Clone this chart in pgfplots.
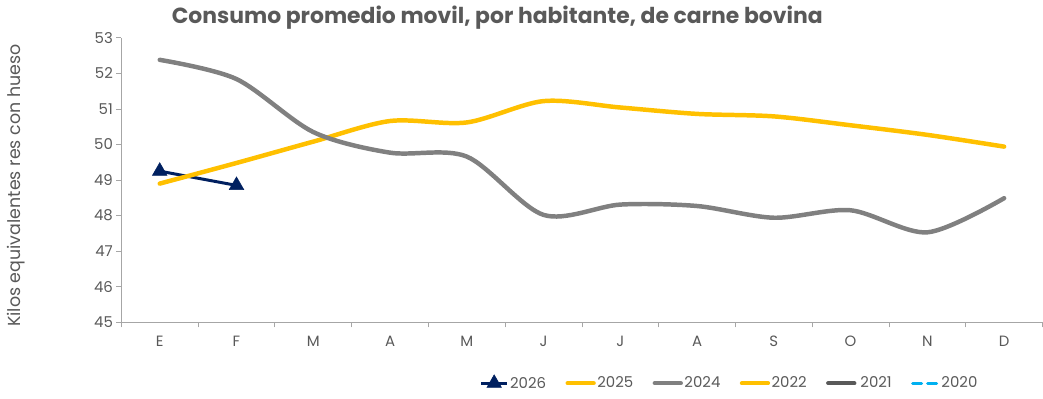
\documentclass[border=0pt]{standalone}
\usepackage{pgfplots}
\pgfplotsset{compat=1.18}
\usepackage{fontspec}
\setmainfont{Poppins}
\definecolor{navy}{HTML}{002060}
\definecolor{gold}{HTML}{FFC000}
\definecolor{midgray}{HTML}{808080}
\definecolor{darkslate}{HTML}{595959}
\definecolor{skyblue}{HTML}{00B0F0}
\definecolor{txtgray}{HTML}{595959}
\definecolor{axgray}{HTML}{A6A6A6}

\begin{document}
\begin{tikzpicture}
\begin{axis}[
    at={(0pt,0pt)}, anchor=south west,
    scale only axis,
    width=926pt, height=286pt,
    xmin=-0.5, xmax=11.5,
    ymin=45, ymax=53,
    ytick={45,...,53},
    xtick={0,...,11},
    xticklabels={E,F,M,A,M,J,J,A,S,O,N,D},
    minor xtick={-0.5,0.5,...,11.5},
    major x tick style={draw=none},
    minor tick length=5pt,
    major tick length=5pt,
    tick align=outside,
    axis x line*=bottom,
    axis y line*=left,
    axis line style={axgray, line width=1pt},
    tick style={axgray, line width=0.8pt},
    every tick label/.style={font=\fontsize{15}{17}\selectfont, text=txtgray},
    /pgf/number format/assume math mode=true,
    xticklabel style={yshift=-5pt},
    ylabel={Kilos equivalentes res con hueso},
    ylabel style={at={(axis description cs:-0.114,0.48)}, anchor=center,
      font=\fontsize{17.5}{20}\selectfont, text=txtgray},
    legend style={at={(axis description cs:0.66,-0.213)}, anchor=center,
      draw=none, fill=none, font=\fontsize{15}{17}\selectfont, text=txtgray,
      legend columns=6, inner sep=0pt,
      nodes={inner sep=1.5pt},
      /tikz/every even column/.append style={column sep=18pt}},
    legend cell align=left,
    legend image code/.code={\draw[mark repeat=2,mark phase=2,#1]
      plot coordinates {(0pt,0pt) (13pt,0pt) (26pt,0pt)};},
    clip=false,
]
% 2026
\addplot[navy, line width=3pt, mark=triangle*, mark size=8.5pt,
  mark options={solid, line width=0.5pt}] coordinates {
  (0,49.25) (1,48.85)
};
\addlegendentry{2026}
% 2025
\addplot[gold, line width=4.5pt, smooth, tension=0.5, line cap=round] coordinates {
  (0,48.9) (1,49.48) (2,50.08) (3,50.66) (4,50.62) (5,51.22)
  (6,51.04) (7,50.86) (8,50.79) (9,50.54) (10,50.27) (11,49.94)
};
\addlegendentry{2025}
% 2024
\addplot[midgray, line width=4.5pt, smooth, tension=0.5, line cap=round] coordinates {
  (0,52.38) (1,51.84) (2,50.35) (3,49.77) (4,49.66) (5,48.02)
  (6,48.31) (7,48.27) (8,47.94) (9,48.15) (10,47.53) (11,48.49)
};
\addlegendentry{2024}
\addlegendimage{gold, line width=4.5pt, line cap=round}
\addlegendentry{2022}
\addlegendimage{darkslate, line width=4.5pt, line cap=round}
\addlegendentry{\,2021}
\addlegendimage{skyblue, line width=3pt, dash pattern=on 9pt off 6pt, line cap=round}
\addlegendentry{2020}
\node[font=\fontsize{22}{25}\selectfont\bfseries, text=txtgray]
  at (rel axis cs:0.408,1) [yshift=20pt] {Consumo promedio movil, por habitante, de carne bovina};
\end{axis}
\path[use as bounding box] (-122pt,-77pt) rectangle (921pt,324pt);
\end{tikzpicture}
\end{document}
